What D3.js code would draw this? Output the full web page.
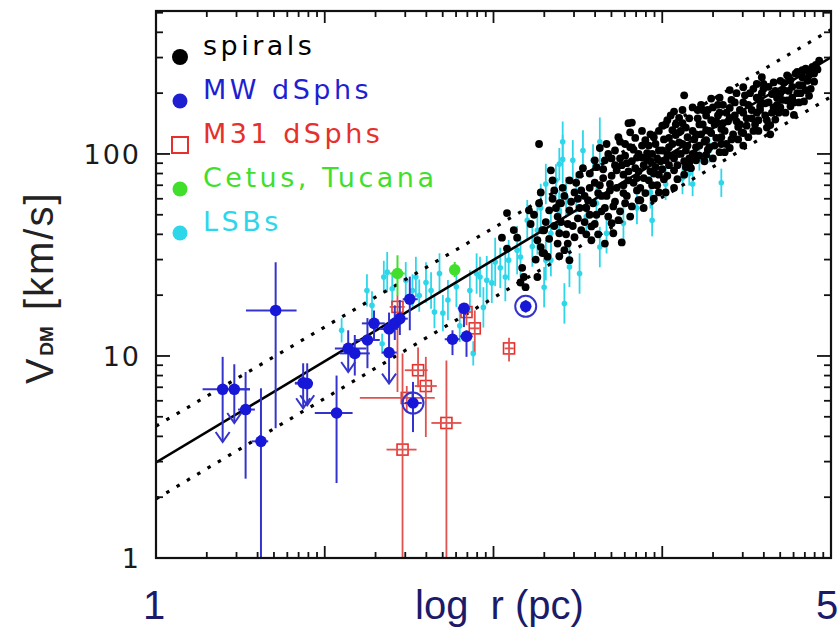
<!DOCTYPE html>
<html>
<head>
<meta charset="utf-8">
<script src="https://cdn.jsdelivr.net/npm/d3@7"></script>
<style>
  body { margin: 0; background: #fff; }
  svg { display: block; }
</style>
</head>
<body>
<svg id="chart" width="840" height="631"></svg>
<script>
// spirals: [log r (pc), V_DM (km/s)]
const spirals = [
  [3.08,51],[3.05,38.5],[3.08,34],[3.12,42],[3.14,38.5],[3.17,27.3],[3.18,24.6],[3.19,21.9],[3.16,23.1],
  [3.21,52.6],[3.24,50],[3.27,57],[3.28,64.5],[3.29,41.9],[3.26,37.4],[3.28,34.6],[3.29,32.3],[3.26,24.6],[3.27,112],
  [3.34,83],[3.35,74],[3.35,60],[3.37,54],[3.33,52.6],[3.38,49],[3.39,57],[3.30,41.9],[3.39,40.5],[3.38,36],[3.30,32.3],[3.32,31],[3.39,31.2],
  [3.41,68],[3.48,64.5],[3.40,57],[3.45,52.6],[3.44,45],[3.48,38.7],[3.42,33.4],[3.45,29.8],[3.45,74],[3.50,60],[3.50,48],[3.43,40],
  [3.53,85],[3.51,79],[3.57,68],[3.55,54],[3.52,41.9],[3.58,43.8],[3.58,37.4],[3.60,93],[3.56,59],[3.61,50],[3.62,64],[3.54,46],[3.60,72],
  [3.63,107],[3.66,93],[3.65,76],[3.69,71],[3.66,54],[3.70,45.4],[3.74,47],[3.66,36],[3.71,40.5],[3.73,83],[3.69,66],[3.74,121],[3.72,58],[3.64,62],[3.68,100],[3.72,88],
  [3.80,142],[3.82,143],[3.81,128],[3.78,112],[3.75,95],[3.84,85],[3.77,79],[3.80,74],[3.78,57],[3.81,49],[3.86,59],[3.76,36.5],[3.85,66],[3.86,100],[3.83,105],[3.79,90],[3.85,76],[3.77,64],
  [3.90,117],[3.95,121],[3.91,101],[3.98,104],[3.93,92],[3.89,76],[3.98,79],[3.98,64.5],[3.87,59],[3.89,54],[3.94,70],[3.96,86],[3.92,110],[3.88,96],[3.97,95],[3.93,82],[3.95,60],
  [4.07,162],[4.03,147],[4.06,131],[4.10,114],[4.00,104],[4.02,93],[4.07,83],[4.07,68],[4.02,64.5],[4.04,120],[4.00,138],[4.09,100],[4.05,98],[4.01,75],[4.09,88],[4.04,108],[4.08,124],[4.03,78],
  [4.13,195],[4.12,142],[4.10,151],[4.15,121],[4.12,112],[4.16,95],[4.20,93],[4.16,90],[4.13,79],[4.21,165],[4.18,130],[4.19,118],[4.14,104],[4.22,140],[4.18,100],[4.11,130],[4.20,108],[4.14,86],
  [4.29,188],[4.27,165],[4.24,165],[4.29,147],[4.26,131],[4.29,127],[4.26,117],[4.34,102],[4.26,99],[4.25,92],[4.31,140],[4.33,155],[4.23,125],[4.32,120],[4.28,108],[4.22,110],[4.30,95],[4.33,175],
  [4.34,190],[4.40,207],[4.40,169],[4.40,151],[4.35,133],[4.45,136],[4.35,121],[4.40,107],[4.37,102],[4.43,180],[4.38,160],[4.44,145],[4.36,142],[4.42,125],[4.45,118],[4.38,112],
  [4.48,214],[4.56,222],[4.48,180],[4.48,160],[4.57,147],[4.48,127],[4.51,121],[4.48,110],[4.56,190],[4.53,165],[4.52,200],[4.55,140],[4.50,150],[4.58,172],[4.54,130],[4.46,140],
  [4.60,222],[4.66,226],[4.65,198],[4.58,184],[4.66,170],[4.58,165],[4.62,147],[4.64,139],[4.60,210],[4.68,190],[4.63,180],[4.69,160],[4.61,155],[4.67,148],[4.64,125],[4.59,240],
  [4.75,240],[4.79,250],[4.76,232],[4.81,219],[4.72,207],[4.77,190],[4.70,170],[4.74,184],[4.78,156],[4.72,225],[4.80,200],[4.70,200],[4.76,172],[4.81,180],
  [4.85,264],[4.89,270],[4.91,276],[4.85,207],[4.84,182],[4.87,194],[4.83,219],[4.93,290],[4.87,245],[4.90,228],[4.83,240],[4.88,210],
  [3.22,45],[3.25,30],[3.31,46],[3.33,38],[3.36,44],[3.36,66],[3.40,46],[3.42,62],[3.44,36],[3.46,58],[3.47,44],[3.49,72],
  [3.51,54],[3.52,66],[3.54,62],[3.55,40],[3.57,50],[3.57,80],[3.59,57],[3.60,45],[3.61,86],[3.62,40],[3.63,70],[3.64,52],
  [3.65,84],[3.67,62],[3.67,112],[3.68,49],[3.70,78],[3.70,95],[3.71,55],[3.72,104],[3.73,68],[3.75,52],[3.75,115],[3.76,88],
  [3.77,70],[3.78,98],[3.79,62],[3.80,82],[3.81,108],[3.82,55],[3.82,92],[3.83,72],[3.84,120],[3.85,96],[3.86,82],[3.87,68],
  [3.88,110],[3.88,130],[3.89,88],[3.90,64],[3.91,94],[3.92,74],[3.93,125],[3.94,100],[3.95,80],[3.96,112],[3.97,70],[3.98,130],
  [3.99,92],[4.00,84],[4.01,118],[4.02,140],[4.03,100],[4.04,88],[4.05,155],[4.06,112],[4.07,95],[4.08,140],[4.09,75],[4.10,128],
  [4.11,100],[4.12,165],[4.13,92],[4.14,135],[4.15,110],[4.16,150],[4.17,85],[4.18,170],[4.19,100],[4.20,125],[4.21,150],[4.22,98],
  [4.23,175],[4.24,140],[4.25,115],[4.26,155],[4.27,105],[4.28,130],[4.30,170],[4.31,110],[4.32,145],[4.34,160],[4.35,112],[4.36,175],
  [4.37,130],[4.39,145],[4.41,185],[4.41,118],[4.43,155],[4.44,200],[4.46,165],[4.47,128],[4.49,195],[4.50,138],[4.51,175],[4.53,150],
  [4.54,210],[4.56,160],[4.57,130],[4.59,200],[4.61,178],[4.62,135],[4.63,215],[4.65,160],[4.67,205],[4.68,175],[4.70,230],[4.71,185],
  [4.73,160],[4.74,245],[4.75,205],[4.77,215],[4.78,180],[4.80,255],[4.82,200],[4.83,260],[4.86,230],[4.88,255],[4.90,250],[4.92,262]
];

// LSBs: [log r, V, error (dex)]
const lsbs = [
  [2.10,13.4,0.06],[2.34,11.5,0.05],[2.25,21.1,0.08],[2.28,17.8,0.07],[2.35,24.6,0.08],[2.37,26.0,0.10],
  [2.40,21.5,0.08],[2.48,23.7,0.09],[2.52,21.1,0.08],[2.54,24.6,0.10],[2.56,19.9,0.08],[2.60,23.1,0.10],
  [2.63,21.1,0.09],[2.65,16.5,0.08],[2.68,25.6,0.10],[2.70,16.3,0.09],[2.73,18.9,0.10],[2.78,22.0,0.10],
  [2.80,14.1,0.08],[2.86,21.1,0.10],[2.88,10.3,0.06],[2.90,25.6,0.10],[2.94,17.4,0.10],[2.96,23.7,0.12],
  [2.92,24.6,0.10],[2.99,23.0,0.10],[3.01,29.2,0.12],[3.04,27.3,0.10],[3.07,24.6,0.12],[3.09,29.8,0.10],
  [3.14,33.4,0.12],[3.16,30.9,0.10],[3.20,47.0,0.10],[3.23,34.8,0.10],[3.26,41.9,0.12],[3.28,54.0,0.12],
  [3.31,71.0,0.10],[3.34,40.5,0.10],[3.37,74.0,0.08],[3.39,51.0,0.10],[3.41,94.0,0.12],[3.43,61.0,0.10],
  [3.42,18.2,0.10],[3.30,21.9,0.10],[3.34,29.8,0.08],[3.41,115,0.10],[3.39,89,0.08],[3.47,93,0.10],
  [3.53,104,0.10],[3.63,115,0.12],[3.59,93,0.08],[3.39,52.6,0.10],[3.49,64.5,0.10],[3.55,49,0.10],
  [3.61,57,0.10],[3.67,40.5,0.10],[3.77,45.4,0.10],[3.85,54,0.08],[3.93,64.5,0.08],[4.02,71,0.08],
  [3.31,29.8,0.10],[3.45,27.6,0.10],[3.51,25.6,0.10],[3.63,34.6,0.10],[3.94,47,0.08],[4.12,76,0.08],
  [4.16,80,0.06],[4.22,95,0.06],[4.28,104,0.06],[4.35,72,0.07],[4.18,71,0.06]
];

// MW dSphs: [log r, V, log r lo, log r hi, V lo, V hi, upper limit, circled]
const mwDsphs = [
  [1.709,16.8,1.533,1.833,4.39,29.1,0,0],
  [1.395,6.84,1.276,1.557,3.75,9.9,1,0],
  [1.464,6.84,1.438,1.557,4.66,9.1,1,0],
  [1.531,5.43,1.486,1.586,2.47,8.33,0,0],
  [1.622,3.78,1.567,1.665,0.5,6.92,0,0],
  [1.872,7.36,1.823,1.930,5.51,9.2,1,0],
  [1.896,7.3,1.823,1.930,5.7,9.2,1,0],
  [2.070,5.22,1.941,2.165,2.35,8.0,0,0],
  [2.139,10.9,2.060,2.247,8.33,13.4,1,0],
  [2.178,10.3,2.089,2.267,8.0,12.7,0,0],
  [2.253,12.0,2.178,2.326,8.7,15.4,0,0],
  [2.292,14.5,2.220,2.356,12.0,16.8,0,0],
  [2.381,13.6,2.326,2.433,11.3,16.4,0,0],
  [2.415,14.5,2.374,2.456,12.0,17.8,0,0],
  [2.445,15.3,2.403,2.492,12.7,18.9,0,0],
  [2.381,10.4,2.338,2.427,7.3,12.7,1,0],
  [2.504,19.1,2.462,2.551,13.4,24.7,0,0],
  [2.523,5.85,2.474,2.575,4.2,7.44,0,1],
  [2.825,17.2,2.788,2.859,13.9,18.3,0,0],
  [2.757,12.1,2.711,2.800,10.1,13.4,0,0],
  [2.840,12.5,2.800,2.877,9.9,13.4,0,0],
  [3.191,17.6,3.17,3.21,16.4,18.9,0,1]
];

// M31 dSphs: [log r, V, log r lo, log r hi, V lo, V hi]
const m31Dsphs = [
  [2.431,17.5,2.385,2.474,6.63,20.0],
  [2.461,3.44,2.366,2.544,0.5,10.3],
  [2.553,8.5,2.474,2.610,7.0,11.0],
  [2.599,7.1,2.533,2.664,3.97,9.9],
  [2.486,6.2,2.208,2.652,5.25,7.1],
  [2.721,4.66,2.632,2.810,0.5,9.5],
  [2.889,13.7,2.859,2.918,10.5,16.8],
  [3.092,10.9,3.066,3.120,9.4,12.3],
  [2.840,16.5,2.800,2.877,14.2,18.3]
];

// Cetus, Tucana: [log r, V, log r lo, log r hi, V lo, V hi]
const cetusTucana = [
  [2.431,25.6,2.385,2.474,19.9,31.5],
  [2.770,26.7,2.741,2.800,24.6,29.2]
];

// relation and its scatter: [log r, V]
const fitLine = [[1, 2.97], [5, 301]];
const fitUpper = [[1, 4.5], [5, 412]];
const fitLower = [[1, 1.96], [5, 192]];

const legendItems = [
  { label: "spirals", color: "#000000", shape: "dot" },
  { label: "MW dSphs", color: "#1f1fd2", shape: "dot" },
  { label: "M31 dSphs", color: "#e6302c", shape: "square" },
  { label: "Cetus, Tucana", color: "#3fdf2c", shape: "dot" },
  { label: "LSBs", color: "#2ed6ea", shape: "dot" }
];

const yTickLabels = [1, 10, 100];
const xEndLabels = ["1", "5"];

const blue = "#1717d8", blueBar = "#3434cc", red = "#e6302c", redBar = "#e0524e",
  green = "#3fdf2c", cyan = "#2ed6ea";

const svg = d3.select("#chart");
const plot = { left: 156, right: 831, top: 11, bottom: 558 };

const x = d3.scaleLinear().domain([1, 5]).range([plot.left, plot.right]);
const y = d3.scaleLog().domain([1, 510]).range([plot.bottom, plot.top]);

svg.append("defs").append("clipPath").attr("id", "clip")
  .append("rect")
  .attr("x", plot.left).attr("y", plot.top)
  .attr("width", plot.right - plot.left).attr("height", plot.bottom - plot.top);

const g = svg.append("g").attr("clip-path", "url(#clip)");

// LSBs
const lsbG = g.append("g");
lsbG.selectAll("line").data(lsbs).enter().append("line")
  .attr("x1", d => x(d[0])).attr("x2", d => x(d[0]))
  .attr("y1", d => y(d[1] / Math.pow(10, d[2])))
  .attr("y2", d => y(d[1] * Math.pow(10, d[2])))
  .attr("stroke", cyan).attr("stroke-width", 1.8);
lsbG.selectAll("circle").data(lsbs).enter().append("circle")
  .attr("cx", d => x(d[0])).attr("cy", d => y(d[1]))
  .attr("r", 2.8).attr("fill", cyan);

// spirals
g.append("g").selectAll("circle").data(spirals).enter().append("circle")
  .attr("cx", d => x(d[0])).attr("cy", d => y(d[1]))
  .attr("r", 3.9).attr("fill", "#000");

// relation
const line = d3.line().x(d => x(d[0])).y(d => y(d[1]));
g.append("path").datum(fitLine).attr("d", line)
  .attr("fill", "none").attr("stroke", "#000").attr("stroke-width", 2.6);
[fitUpper, fitLower].forEach(function (f) {
  g.append("path").datum(f).attr("d", line)
    .attr("fill", "none").attr("stroke", "#000").attr("stroke-width", 3.2)
    .attr("stroke-dasharray", "3.5,8.5");
});

// error bars helper
function errorBars (sel, data, color, w) {
  sel.selectAll(".ex").data(data).enter().append("line").attr("class", "ex")
    .attr("x1", d => x(d[2])).attr("x2", d => x(d[3]))
    .attr("y1", d => y(d[1])).attr("y2", d => y(d[1]))
    .attr("stroke", color).attr("stroke-width", w);
  sel.selectAll(".ey").data(data).enter().append("line").attr("class", "ey")
    .attr("x1", d => x(d[0])).attr("x2", d => x(d[0]))
    .attr("y1", d => y(d[4])).attr("y2", d => y(d[5]))
    .attr("stroke", color).attr("stroke-width", w);
}

// M31 dSphs
const m31G = g.append("g");
m31G.selectAll("rect").data(m31Dsphs).enter().append("rect")
  .attr("x", d => x(d[0]) - 5.5).attr("y", d => y(d[1]) - 5.5)
  .attr("width", 11).attr("height", 11)
  .attr("fill", "none").attr("stroke", red).attr("stroke-width", 1.6);
errorBars(m31G, m31Dsphs, redBar, 1.8);

// MW dSphs
const mwG = g.append("g");
errorBars(mwG, mwDsphs, blueBar, 2);
mwG.selectAll(".arrow").data(mwDsphs.filter(d => d[6])).enter().append("path")
  .attr("class", "arrow")
  .attr("d", function (d) {
    const cx = x(d[0]), ty = y(d[4]);
    return "M" + (cx - 7) + "," + (ty - 10) + "L" + cx + "," + ty + "L" + (cx + 7) + "," + (ty - 10);
  })
  .attr("fill", "none").attr("stroke", blueBar).attr("stroke-width", 2);
mwG.selectAll(".ring").data(mwDsphs.filter(d => d[7])).enter().append("circle")
  .attr("class", "ring")
  .attr("cx", d => x(d[0])).attr("cy", d => y(d[1]))
  .attr("r", 10.5).attr("fill", "none").attr("stroke", blueBar).attr("stroke-width", 2);
mwG.selectAll(".dot").data(mwDsphs).enter().append("circle")
  .attr("class", "dot")
  .attr("cx", d => x(d[0])).attr("cy", d => y(d[1]))
  .attr("r", 5.8).attr("fill", blue);

// Cetus, Tucana
const ctG = g.append("g");
errorBars(ctG, cetusTucana, green, 2);
ctG.selectAll(".dot").data(cetusTucana).enter().append("circle")
  .attr("class", "dot")
  .attr("cx", d => x(d[0])).attr("cy", d => y(d[1]))
  .attr("r", 5.8).attr("fill", green);

// frame and ticks
const axisG = svg.append("g").attr("stroke", "#111").attr("fill", "none");
axisG.append("rect")
  .attr("x", plot.left).attr("y", plot.top)
  .attr("width", plot.right - plot.left).attr("height", plot.bottom - plot.top)
  .attr("stroke-width", 2.2);

const xTicks = [];
d3.range(1, 5).forEach(function (dec) {
  d3.range(1, 10).forEach(function (k) {
    xTicks.push({ v: dec + Math.log10(k), major: k === 1 });
  });
});
xTicks.forEach(function (t) {
  const px = x(t.v), len = t.major ? 12 : 6;
  axisG.append("line").attr("x1", px).attr("x2", px)
    .attr("y1", plot.bottom).attr("y2", plot.bottom - len).attr("stroke-width", 1.8);
  axisG.append("line").attr("x1", px).attr("x2", px)
    .attr("y1", plot.top).attr("y2", plot.top + len).attr("stroke-width", 1.8);
});

y.ticks().forEach(function (v) {
  const py = y(v), major = yTickLabels.indexOf(v) >= 0, len = major ? 14 : 7;
  axisG.append("line").attr("x1", plot.left).attr("x2", plot.left + len)
    .attr("y1", py).attr("y2", py).attr("stroke-width", 1.8);
  axisG.append("line").attr("x1", plot.right).attr("x2", plot.right - len)
    .attr("y1", py).attr("y2", py).attr("stroke-width", 1.8);
});

svg.append("g").selectAll("text").data(yTickLabels).enter().append("text")
  .attr("x", 141).attr("y", d => y(d) + 10)
  .attr("text-anchor", "end")
  .style("font-family", "DejaVu Sans, sans-serif").style("font-size", "27px")
  .style("letter-spacing", "2px")
  .attr("fill", "#1a1a1a")
  .text(d => d);

// y axis title
const yTitle = svg.append("text")
  .attr("transform", "translate(53,384) rotate(-90)")
  .style("font-family", "Liberation Sans, Arial, sans-serif")
  .attr("fill", "#222");
yTitle.append("tspan").style("font-size", "38px").text("V");
yTitle.append("tspan").attr("dx", 3).style("font-size", "19px").style("font-weight", "bold").text("DM");
yTitle.append("tspan").attr("dx", 16).style("font-size", "40px").style("letter-spacing", "2px").text("[km/s]");

// bottom labels
const navy = "#1b1b6a";
svg.append("text").attr("x", 143).attr("y", 619).text(xEndLabels[0])
  .style("font-family", "Liberation Sans, Arial, sans-serif").style("font-size", "40px").attr("fill", navy);
svg.append("text").attr("x", 816).attr("y", 619).text(xEndLabels[1])
  .style("font-family", "Liberation Sans, Arial, sans-serif").style("font-size", "40px").attr("fill", navy);
svg.append("text").attr("x", 415).attr("y", 619)
  .style("font-family", "Liberation Sans, Arial, sans-serif").style("font-size", "40px")
  .style("white-space", "pre").attr("fill", navy)
  .text("log  r (pc)");

// legend
const leg = svg.append("g");
legendItems.forEach(function (item, i) {
  const cy = 57 + i * 44;
  if (item.shape === "square") {
    leg.append("rect").attr("x", 172).attr("y", cy - 8).attr("width", 16).attr("height", 16)
      .attr("fill", "none").attr("stroke", item.color).attr("stroke-width", 2);
  } else {
    leg.append("circle").attr("cx", 180).attr("cy", cy).attr("r", i === 0 ? 8 : 7.5).attr("fill", item.color);
  }
  leg.append("text").attr("x", 203).attr("y", cy - 2)
    .style("font-family", "DejaVu Sans, sans-serif").style("font-size", "27px")
    .style("letter-spacing", "3.5px")
    .attr("fill", item.color)
    .text(item.label);
});
</script>
</body>
</html>
